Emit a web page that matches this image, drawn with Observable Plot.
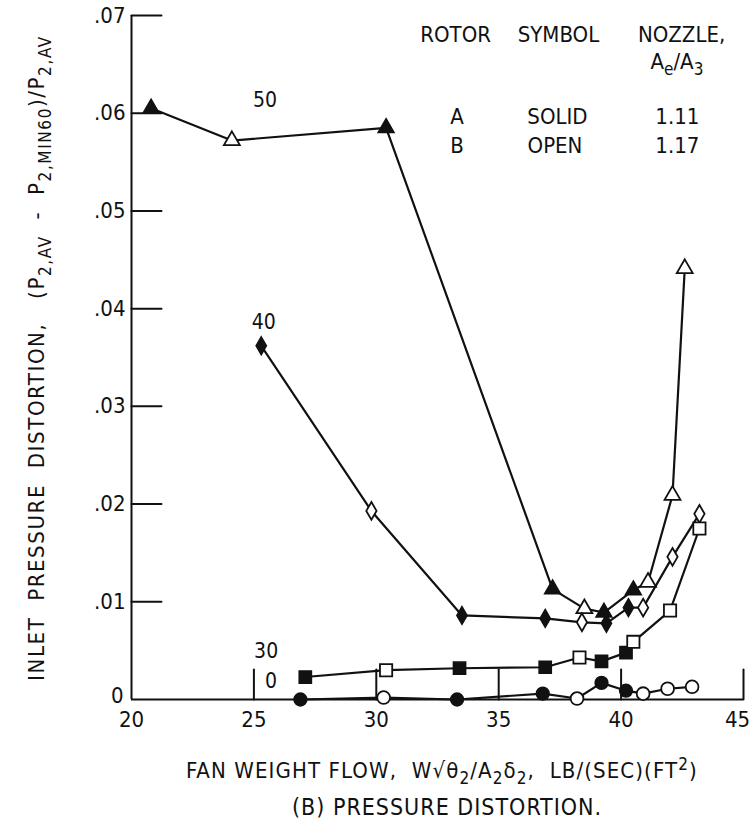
<!DOCTYPE html>
<html>
<head>
<meta charset="utf-8">
<script src="https://cdn.jsdelivr.net/npm/d3@7"></script>
<script src="https://cdn.jsdelivr.net/npm/@observablehq/plot@0.6"></script>
<style>
  body { margin: 0; background: #fff; }
  #chart { width: 754px; }
  .cap { font-family: "Liberation Sans Narrow", "DejaVu Sans Condensed", sans-serif; font-size: 23px; letter-spacing: 1px; color: #111; width: 754px; margin-top: 4px; padding-left: 292px; box-sizing: border-box; }
</style>
</head>
<body>
<div id="chart"></div>
<div class="cap">(B) PRESSURE DISTORTION.</div>
<script>
// ---- data ----
const xTicks = [20, 25, 30, 35, 40, 45];
const yTicks = [0, 0.01, 0.02, 0.03, 0.04, 0.05, 0.06, 0.07];

// series "50" (triangles)
const tri_x = [20.8, 24.1, 30.4, 37.2, 38.5, 39.3, 40.5, 41.1, 42.1, 42.6];
const tri_y = [0.0605, 0.0572, 0.0585, 0.0113, 0.0093, 0.0089, 0.0112, 0.0120, 0.0209, 0.0441];
const tri_rotor = ["A", "B", "A", "A", "B", "A", "A", "B", "B", "B"];

// series "40" (diamonds)
const dia_x = [25.3, 29.8, 33.5, 36.9, 38.4, 39.4, 40.3, 40.9, 42.1, 43.2];
const dia_y = [0.0362, 0.0193, 0.0086, 0.0083, 0.0079, 0.0078, 0.0094, 0.0094, 0.0146, 0.0190];
const dia_rotor = ["A", "B", "A", "A", "B", "A", "A", "B", "B", "B"];

// series "30" (squares)
const sq_x = [27.1, 30.4, 33.4, 36.9, 38.3, 39.2, 40.2, 40.5, 42.0, 43.2];
const sq_y = [0.0023, 0.0030, 0.0032, 0.0033, 0.0043, 0.0039, 0.0048, 0.0059, 0.0091, 0.0175];
const sq_rotor = ["A", "B", "A", "A", "B", "A", "A", "B", "B", "B"];

// series "0" (circles)
const ci_x = [26.9, 30.3, 33.3, 36.8, 38.2, 39.2, 40.2, 40.9, 41.9, 42.9];
const ci_y = [0.0000, 0.0002, 0.0000, 0.0006, 0.0001, 0.0017, 0.0009, 0.0006, 0.0011, 0.0013];
const ci_rotor = ["A", "B", "A", "A", "B", "A", "A", "B", "B", "B"];

// series labels
const lab_text = ["50", "40", "30", "0"];
const lab_x = [25.45, 25.4, 25.5, 25.7];
const lab_y = [0.0613, 0.0386, 0.0049, 0.0019];

// legend table
const leg_text = ["ROTOR", "SYMBOL", "NOZZLE,", "A", "SOLID", "1.11", "B", "OPEN", "1.17"];
const leg_x = [33.24, 37.44, 42.47, 33.3, 37.4, 42.3, 33.3, 37.3, 42.3];
const leg_y = [0.0680, 0.0680, 0.0680, 0.0596, 0.0596, 0.0596, 0.0566, 0.0566, 0.0566];

// ---- build rows ----
function rows(name, xs, ys, rotors) {
  return xs.map((x, i) => ({series: name, x, y: ys[i], rotor: rotors[i]}));
}
const S = [
  {name: "50", data: rows("50", tri_x, tri_y, tri_rotor), symbol: "triangle", r: 5.9},
  {name: "40", data: rows("40", dia_x, dia_y, dia_rotor), symbol: "diamond", r: 5.4},
  {name: "30", data: rows("30", sq_x, sq_y, sq_rotor), symbol: "square", r: 6.9},
  {name: "0",  data: rows("0",  ci_x, ci_y, ci_rotor), symbol: "circle", r: 6.4}
];
const allRows = S.flatMap(s => s.data);
const labels = lab_text.map((t, i) => ({t, x: lab_x[i], y: lab_y[i]}));
const legend = leg_text.map((t, i) => ({t, x: leg_x[i], y: leg_y[i]}));

const FONT = '"Liberation Sans Narrow", "DejaVu Sans Condensed", sans-serif';
const tickShape = {draw(context, l) { context.moveTo(0, 0); context.lineTo(0, -l); }};

const dotMarks = S.flatMap(s => [
  Plot.dot(s.data.filter(d => d.rotor === "A"), {x: "x", y: "y", symbol: () => s.symbol, r: s.r, fill: "#111", stroke: "#111", strokeWidth: 1.5}),
  Plot.dot(s.data.filter(d => d.rotor === "B"), {x: "x", y: "y", symbol: () => s.symbol, r: s.r, fill: "white", stroke: "#111", strokeWidth: 1.8})
]);

const yFmt = d => d === 0 ? "0" : "." + String(Math.round(d * 100)).padStart(2, "0");

const plot = Plot.plot({
  width: 754,
  height: 790,
  marginLeft: 131,
  marginRight: 11,
  marginTop: 15,
  marginBottom: 91,
  style: {fontFamily: FONT, fontSize: "21px", color: "#111", background: "white"},
  x: {domain: [20, 45]},
  y: {domain: [0, 0.07]},
  symbol: {type: "identity"},
  marks: [
    Plot.ruleX([20], {y1: 0, y2: 0.07, stroke: "#111", strokeWidth: 2}),
    Plot.ruleY([0], {x1: 20, x2: 45, stroke: "#111", strokeWidth: 2}),
    Plot.vector(yTicks.filter(d => d > 0), {x: 20, y: d => d, length: 30, rotate: 90, anchor: "start", shape: tickShape, stroke: "#111", strokeWidth: 2}),
    Plot.vector(xTicks.filter(d => d > 20), {x: d => d, y: 0, length: 30, rotate: 0, anchor: "start", shape: tickShape, stroke: "#111", strokeWidth: 2}),
    Plot.axisY({ticks: yTicks.filter(d => d > 0), tickSize: 0, tickPadding: 6, label: null, fontSize: 22, tickFormat: yFmt}),
    Plot.axisY({ticks: [0], tickSize: 0, tickPadding: 8, dy: -4, label: null, fontSize: 22, tickFormat: yFmt}),
    Plot.axisX({ticks: xTicks.filter(d => d < 45), tickSize: 0, tickPadding: 12, label: null, fontSize: 22, tickFormat: d => String(d)}),
    Plot.axisX({ticks: [45], tickSize: 0, tickPadding: 12, dx: -6, label: null, fontSize: 22, tickFormat: d => String(d)}),
    Plot.line(allRows, {x: "x", y: "y", z: "series", stroke: "#111", strokeWidth: 2.2}),
    ...dotMarks,
    Plot.text(labels, {x: "x", y: "y", text: "t", fontSize: 21, fill: "#111"}),
    Plot.text(legend, {x: "x", y: "y", text: "t", fontSize: 22, fill: "#111"})
  ]
});

document.getElementById("chart").appendChild(plot);

// ---- texts with subscripts, placed through the plot's scales ----
const svg = d3.select(plot);
const xs = plot.scale("x"), ys = plot.scale("y");

// A_e/A_3 under NOZZLE,
const ae = svg.append("text")
  .attr("x", xs.apply(42.3)).attr("y", ys.apply(0.0652) + 7)
  .attr("text-anchor", "middle").attr("font-family", FONT).attr("font-size", 22).attr("fill", "#111");
ae.append("tspan").text("A");
ae.append("tspan").attr("dy", 6).attr("font-size", 17).text("e");
ae.append("tspan").attr("dy", -6).text("/A");
ae.append("tspan").attr("dy", 6).attr("font-size", 17).text("3");

// x axis title
const xt = svg.append("text")
  .attr("x", xs.apply(32.7)).attr("y", ys.apply(0) + 79)
  .attr("text-anchor", "middle").attr("font-family", FONT).attr("font-size", 22)
  .attr("letter-spacing", 1.1).attr("fill", "#111");
xt.append("tspan").text("FAN WEIGHT FLOW,  W\u221A\u03B8");
xt.append("tspan").attr("dy", 6).attr("font-size", 17).text("2");
xt.append("tspan").attr("dy", -6).text("/A");
xt.append("tspan").attr("dy", 6).attr("font-size", 17).text("2");
xt.append("tspan").attr("dy", -6).text("\u03B4");
xt.append("tspan").attr("dy", 6).attr("font-size", 17).text("2");
xt.append("tspan").attr("dy", -6).text(",  LB/(SEC)(FT");
xt.append("tspan").attr("dy", -8).attr("font-size", 17).text("2");
xt.append("tspan").attr("dy", 8).text(")");

// y axis title (rotated)
const yt = svg.append("text")
  .attr("transform", `translate(44,${ys.apply(0.0349)}) rotate(-90)`)
  .attr("text-anchor", "middle").attr("font-family", FONT).attr("font-size", 22)
  .attr("letter-spacing", 1.6).attr("fill", "#111");
yt.append("tspan").text("INLET  PRESSURE  DISTORTION,   (P");
yt.append("tspan").attr("dy", 7).attr("font-size", 17).text("2,AV");
yt.append("tspan").attr("dy", -7).text("  -  P");
yt.append("tspan").attr("dy", 7).attr("font-size", 17).text("2,MIN60");
yt.append("tspan").attr("dy", -7).text(")/P");
yt.append("tspan").attr("dy", 7).attr("font-size", 17).text("2,AV");
</script>
</body>
</html>
